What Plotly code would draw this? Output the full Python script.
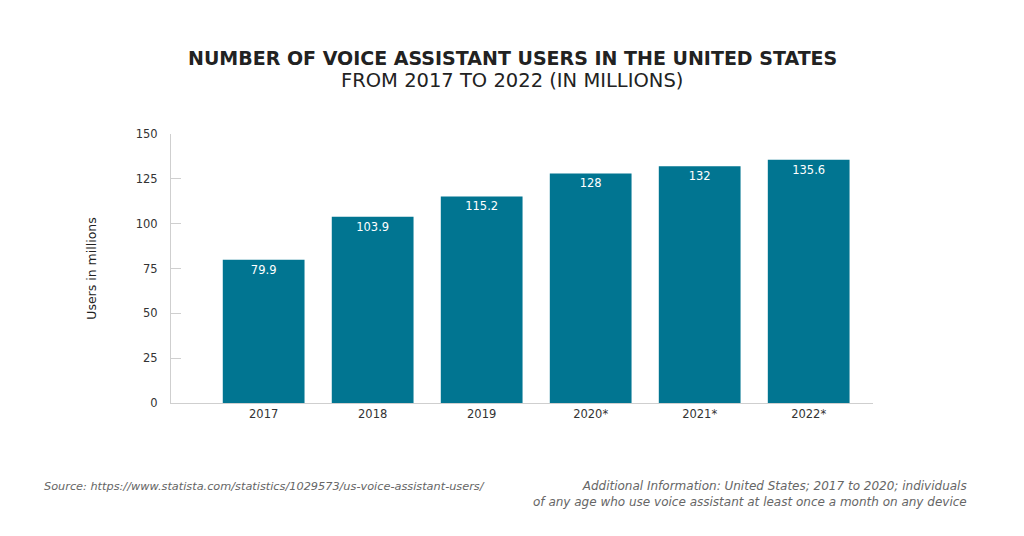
import plotly.graph_objects as go

years = ["2017", "2018", "2019", "2020*", "2021*", "2022*"]
users = [79.9, 103.9, 115.2, 128, 132, 135.6]
labels = ["79.9", "103.9", "115.2", "128", "132", "135.6"]
y_ticks = [0, 25, 50, 75, 100, 125, 150]

FONT = "DejaVu Sans"
L, R, T, B = 171, 151, 134, 133

fig = go.Figure(go.Bar(
    x=years, y=users, text=labels,
    textposition="inside", insidetextanchor="end",
    textfont=dict(color="white", size=11.5, family=FONT),
    marker=dict(color="#017591", line=dict(width=0)),
    width=0.75, cliponaxis=False,
))

fig.update_layout(
    width=1024, height=536,
    paper_bgcolor="white", plot_bgcolor="white",
    margin=dict(l=L, r=R, t=T, b=B),
    showlegend=False,
    font=dict(family=FONT, color="#333333", size=11.5),
    xaxis=dict(
        range=[-0.85, 5.59], showgrid=False, zeroline=False,
        showline=True, linecolor="#cfcfcf", linewidth=1,
        ticks="", tickfont=dict(size=11.5, color="#333333"),
    ),
    yaxis=dict(
        range=[0, 150], tickvals=y_ticks, showgrid=False, zeroline=False,
        showline=True, linecolor="#cfcfcf", linewidth=1,
        ticks="inside", ticklen=10, tickcolor="#cfcfcf",
        tickfont=dict(size=11.5, color="#333333"), ticklabelstandoff=10,
        title=dict(text="Users in millions", font=dict(size=12.5, color="#222222"), standoff=36),
    ),
    annotations=[
        dict(text="<b>NUMBER OF VOICE ASSISTANT USERS IN THE UNITED STATES</b>",
             x=512, y=58, showarrow=False,
             font=dict(size=19, color="#222222", family=FONT)),
        dict(text="FROM 2017 TO 2022 (IN MILLIONS)",
             x=512, y=81, showarrow=False,
             font=dict(size=19.5, color="#222222", family=FONT)),
        dict(text="<i>Source: https://www.statista.com/statistics/1029573/us-voice-assistant-users/</i>",
             x=42, y=486, xanchor="left", showarrow=False,
             font=dict(size=11.3, color="#666666", family=FONT)),
        dict(text="<i>Additional Information: United States; 2017 to 2020; individuals<br>of any age who use voice assistant at least once a month on any device</i>",
             x=969, y=494, xanchor="right", align="right", showarrow=False,
             font=dict(size=12, color="#666666", family=FONT)),
    ],
)

# convert pixel-positioned annotations to paper coords
pw = 1024 - L - R
ph = 536 - T - B
for a in fig.layout.annotations:
    px, py = a.x, a.y
    a.xref = "paper"; a.yref = "paper"
    a.x = (px - L) / pw
    a.y = (536 - B - py) / ph
    a.yanchor = "middle"

fig.write_html("out.html", config={"displayModeBar": False},
               post_script="document.body.style.margin='0';")
